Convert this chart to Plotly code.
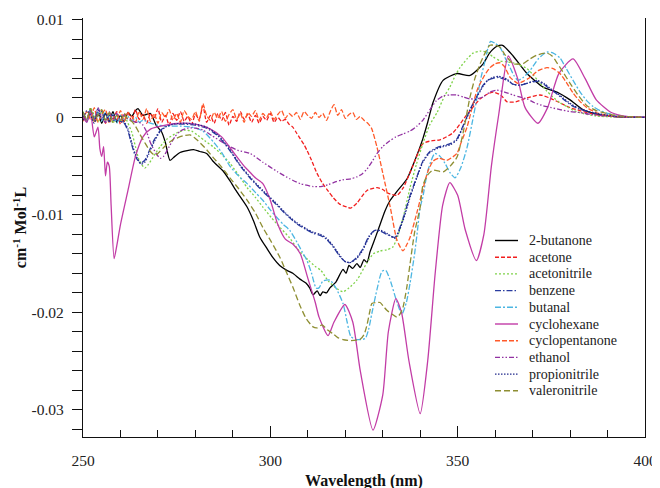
import numpy as np
import plotly.graph_objects as go

# ---------------- data (values in units of 1e-3 cm^-1 Mol^-1 L) ----------------
names = ["2-butanone", "acetone", "acetonitrile", "benzene", "butanal",
         "cyclohexane", "cyclopentanone", "ethanol", "propionitrile", "valeronitrile"]

butanone_wl = [250, 251, 252, 253, 254, 255, 256, 257, 258, 259, 260, 261, 262, 263, 264, 264.7, 266, 268, 269.5,
               271, 272, 273.2, 274.5, 275.9, 277.8, 279.5, 281.2, 283, 284.7, 287.4, 289.2, 291, 293.8, 295.5,
               297.2, 299, 300.7, 302.5, 304.4, 306, 307.9, 309.5, 310.5, 311.4, 312.5, 313.3, 314, 315, 315.9,
               317.5, 319.4, 320.2, 321, 322, 323.1, 324, 325, 325.8, 326.6, 327.4, 329, 330.6, 332, 333.8,
               336.5, 338.5, 340.7, 342, 343.4, 346.1, 349.8, 353.3, 356.8, 358.5, 360.5, 362, 364.8, 368.5,
               372.8, 376.5, 380, 383.4, 388, 392, 396, 400]
butanone_val = [0.3, -0.4, 0.8, -0.2, 0.5, -0.6, 0.4, -0.3, 0.6, -0.5, 0.2, -0.4, 0.5, 0.1, 0.7, 0.9, 0.2, 0.4, -0.8,
                -1.5, -2.6, -4.4, -4.0, -3.6, -3.4, -3.3, -3.5, -3.7, -4.5, -5.5, -6.5, -7.6, -9.2, -10.6,
                -12.3, -13.4, -14.4, -15.2, -15.7, -16.0, -16.6, -17.0, -17.5, -18.2, -17.8, -18.3, -17.9, -18.0, -17.5,
                -16.9, -15.6, -16.0, -15.2, -15.5, -15.0, -15.4, -14.6, -14.9, -13.8, -13.0, -11.3, -9.6, -8.5, -7.6,
                -6.3, -4.5, -2.2, -0.5, 1.5, 3.8, 4.5, 4.3, 5.5, 6.6, 7.3, 7.4, 6.3, 4.5,
                3.1, 2.6, 1.8, 0.8, 0.25, 0.08, 0.02, 0.0]

acetone_wl = list(range(250, 306)) + [306, 307, 308, 309, 309.8, 311, 312.4, 314, 315.5, 316.7, 318.5, 320.4, 321.5,
                                      323.1, 325.8, 328.5, 330, 331.5, 333.8, 335.5, 338, 340.7, 343, 345.3, 348.7,
                                      352.5, 356, 358, 359.5, 361.5, 363.2, 365.5, 368.5, 372, 374.5, 377.3, 380,
                                      382.6, 385.5, 388, 392, 396, 400]
acetone_val = [0.5, -0.3, 0.9, -0.5, 0.2, 0.7, -0.6, 0.3, -0.2, 0.6, -0.7, 0.1, 0.5, -0.4, 0.8, -0.2, 0.3, -0.6,
               0.4, -0.1, 0.9, -0.5, 0.2, -0.8, 0.4, -0.3, 0.6, -0.4, 0.1, -0.7, 0.3, -0.2, 1.2, -0.5, 0.2, -0.6,
               0.4, -0.3, 0.5, -0.8, 0.1, -0.4, 0.6, -0.2, 0.3, -0.5, 0.2, -0.6, 0.1, -0.3, 0.4, -0.5, 0.0, -0.4,
               -0.2, -0.7,
               -1.0, -1.6, -2.2, -2.8, -3.4, -4.4, -5.7, -6.8, -7.6, -8.2, -8.9, -9.2, -9.3,
               -8.8, -7.5, -7.2, -7.4, -7.8, -8.0, -7.2, -5.0, -2.7, -2.4, -2.3, -1.6,
               0.3, 1.9, 2.4, 2.6, 2.3, 1.6, 1.6, 2.0, 2.3, 2.0, 1.5, 1.0,
               0.7, 0.4, 0.2, 0.08, 0.02, 0.0]

acetonitrile_wl = [250, 251, 252, 253, 254, 255, 256, 257, 258, 259, 260, 261, 262, 263, 264, 265, 266.5, 267.5, 269,
                   270.6, 272.5, 275, 277, 279, 280.5, 282.5, 284.7, 287, 289.2, 291.5, 293.8, 296, 298, 300.3,
                   302.6, 305, 307.5, 310, 312, 313.5, 315.5, 317.5, 319.4, 321, 323.1, 325.8, 327.5, 329.3, 331,
                   332.7, 334, 335.5, 337.3, 339, 340.7, 342.5, 344.5, 346.5, 347.9, 349.5, 350.6, 352.5, 354.1,
                   356, 357.8, 359.5, 361.3, 363, 364.8, 366.5, 368.5, 370.3, 372, 373.8, 375.4, 377.3, 379.2,
                   381, 383.4, 387, 392, 400]
acetonitrile_val = [0.6, -0.3, 1.0, 0.2, -0.5, 0.7, -0.2, 0.4, -0.6, 0.3, -0.4, 0.2, -0.6, -1.5, -3.0, -4.4, -5.2,
                    -4.8, -3.9, -3.0, -2.2, -1.6, -1.3, -1.4, -1.8, -2.4, -3.0, -3.8, -4.7, -5.9, -7.2, -8.2, -9.2,
                    -10.3, -11.3, -12.3, -13.6, -14.6, -15.3, -15.7, -16.8, -17.5, -17.9, -17.5, -16.7, -14.9,
                    -14.0, -13.7, -13.6, -13.3, -12.2, -10.2, -7.2, -4.8, -2.7, -0.8, 0.5, 2.2, 3.1, 4.4, 5.1,
                    6.0, 6.6, 6.8, 6.7, 6.2, 5.8, 5.7, 5.6, 5.4, 5.0, 4.3, 3.5, 2.7, 2.1, 1.5, 1.1, 0.7, 0.4,
                    0.15, 0.04, 0.0]

benzene_wl = [250, 251, 252, 253, 254, 255, 256, 257, 258, 259, 260, 261, 262, 263, 264, 265.3, 266.5, 267.5, 269,
              270.5, 272, 274, 277, 280, 283, 286, 289, 292, 295, 298, 301, 304, 307, 309.5, 311.5, 313.3, 315,
              317, 318.6, 320, 321.3, 323, 324.7, 326.3, 327.9, 329.5, 331.1, 333.3, 335.4, 337.3, 339.1, 340.7,
              342.6, 344.5, 346.1, 348, 349.8, 351.5, 353.3, 355, 356.8, 358, 359.4, 361, 363.2, 364.8, 366.5,
              368.5, 371.2, 373, 374.6, 376.5, 378.1, 380.5, 382.6, 385, 388, 392, 396, 400]
benzene_val = [0.5, -0.2, 0.8, -0.4, 0.3, 0.6, -0.5, 0.2, -0.3, -0.2, -0.4, -0.6, -1.4, -2.8, -4.0, -4.7, -4.4,
               -3.6, -2.3, -1.4, -0.9, -0.7, -0.7, -0.8, -1.1, -1.9, -3.3, -5.0, -6.4, -7.6, -8.7, -9.9, -10.9,
               -11.5, -11.9, -12.1, -12.5, -13.4, -14.3, -14.8, -14.9, -14.4, -13.5, -12.2, -11.6, -11.7, -12.0,
               -12.3, -10.4, -8.0, -6.1, -4.5, -3.5, -3.1, -2.9, -2.7, -2.2, -0.8, 0.8, 2.1, 3.3, 3.8, 4.0,
               4.1, 3.8, 3.4, 3.3, 3.5, 3.7, 3.4, 2.9, 2.4, 1.9, 1.2, 0.85, 0.55, 0.32, 0.1, 0.03, 0.0]

butanal_wl = [250, 251, 252, 253, 254, 255, 256, 257, 258, 259, 260, 261, 262, 263, 264, 265, 266, 268, 270, 273,
              276, 279, 282, 285, 287, 289.2, 291.5, 293.8, 296, 298, 300, 301.8, 303.5, 305.2, 307.1, 308.5,
              309.8, 311, 312.2, 313, 314, 315.9, 317.5, 319.4, 320.5, 321.5, 323, 325.3, 326.2, 327.1, 328.5,
              329.8, 330.8, 331.9, 333.5, 335.1, 336.3, 337.3, 338.5, 339.3, 340, 340.7, 342, 343.9, 345.3,
              346.6, 348, 349.3, 350.8, 352.5, 354, 355.2, 356.3, 357.3, 358, 358.8, 360, 361.3, 362.8, 364,
              365, 366.1, 367.5, 369.3, 371.5, 373.8, 375.5, 377.3, 379, 380.8, 382.7, 384.5, 386.2, 388, 390,
              392.5, 396, 400]
butanal_val = [0.4, -0.5, 0.8, -0.1, 0.5, -0.4, 0.6, -0.2, 0.3, -0.6, 0.2, -0.3, 0.1, -0.4, 0.0, -0.5, -0.3, -0.6,
               -0.8, -0.9, -0.9, -1.0, -1.4, -2.6, -3.6, -5.0, -6.0, -6.8, -7.7, -8.5, -9.5, -10.3, -11.0, -11.6,
               -12.8, -13.8, -14.7, -16.0, -17.5, -17.5, -16.8, -16.7, -17.5, -19.1, -21.0, -22.5, -22.8, -22.7,
               -21.8, -20.1, -17.6, -15.8, -15.7, -16.6, -18.6, -20.2, -19.0, -17.0, -14.0, -11.5, -9.2, -8.2,
               -5.5, -3.7, -4.0, -4.7, -5.7, -6.2, -5.2, -3.1, -0.3, 2.1, 4.2, 5.8, 7.0, 7.8, 7.6, 7.2, 6.0,
               5.1, 4.3, 3.8, 4.1, 4.8, 6.0, 6.7, 6.6, 6.1, 5.0, 3.8, 2.6, 1.7, 1.1, 0.7, 0.4, 0.2, 0.06, 0.0]

cyclohexane_wl = [250, 251, 252, 253, 254, 254.5, 255, 255.5, 256, 256.5, 257, 257.5, 258.3, 259, 260, 262, 264,
                  266, 268, 272, 276, 280, 284, 287, 290, 293, 294.5, 296, 298, 300, 302, 304, 306, 308, 310,
                  312, 313, 315.4, 317, 319.9, 322, 324, 327.4, 330, 331.5, 333.5, 335, 337, 340, 342, 344,
                  346, 347.9, 350, 352, 355, 357, 359, 361, 363.5, 366, 368, 371.4, 374, 377, 380.8, 384, 387,
                  391, 395, 400]
cyclohexane_val = [0.0, -0.5, 0.5, -2.0, -1.0, -3.2, -4.0, -3.0, -6.0, -4.6, -5.0, -9.0, -14.5, -13.2, -11.0,
                   -7.5, -4.0, -2.0, -1.2, -0.8, -0.6, -0.7, -1.2, -2.0, -3.5, -5.0, -5.6, -6.2, -6.8, -8.5,
                   -11.0, -12.5, -13.0, -14.0, -16.5, -19.0, -20.5, -22.4, -21.0, -19.2, -21.0, -26.0, -32.1,
                   -28.5, -22.0, -18.6, -20.0, -25.0, -30.4, -25.0, -16.0, -9.0, -6.7, -8.0, -11.5, -14.7, -12.0,
                   -5.0, 0.4, 6.3, 4.0, 1.0, -0.6, 1.0, 4.5, 6.0, 4.0, 1.8, 0.5, 0.1, 0.0]

cyclopentanone_wl = list(range(250, 328)) + [328.5, 330, 332, 333.8, 335.4, 336.5, 337.3, 339.1, 340.7, 342, 343.4,
                                             345, 347.1, 349.8, 351, 352.5, 354, 355.2, 357, 358.6, 360, 361.3,
                                             362.5, 364, 366.1, 367.5, 369.3, 371.5, 373.8, 375.5, 377.3, 379,
                                             380.8, 382.5, 384.5, 387, 389.8, 394, 400]
cyclopentanone_val = [-0.4, 0.6, -0.2, 1.0, -0.5, 0.3, 0.8, -0.6, 0.2, -0.3, 0.7, -0.4, 0.5, 0.1, -0.5, 0.6, -0.2,
                      0.9, -0.4, 0.4, -0.6, 0.5, 0.0, 0.8, -0.3, 0.4, -0.5, 0.7, 0.1, -0.2, 0.6, -0.4, 1.4, 0.2,
                      -0.3, 0.5, -0.1, 0.6, -0.4, 0.3, 0.8, -0.2, 0.4, -0.5, 0.5, 0.1, 0.7, -0.3, 0.4, 0.0, 0.6,
                      -0.2, 0.3, 0.7, -0.1, 0.4, 0.1, 0.5, -0.2, 0.6, 0.2, -0.1, 0.5, 0.0, 0.4, -0.3, 0.6, 1.3,
                      0.2, 0.8, -0.1, 0.3, 0.5, -0.2, 0.1, -0.3, -0.6, -1.1,
                      -3.1, -5.7, -9.2, -12.6, -13.7, -13.0, -12.3, -9.8, -7.4, -5.6, -4.5,
                      -4.2, -4.4, -3.7, -2.5, -1.0, 1.2, 2.8, 4.2, 5.1, 5.5, 5.6,
                      5.2, 4.1, 3.5, 3.7, 4.1, 4.8, 5.1, 5.0, 4.5, 3.6,
                      2.5, 1.7, 1.0, 0.5, 0.2, 0.05, 0.0]

ethanol_wl = [250, 251, 252, 253, 254, 255, 256, 257, 258, 259, 260, 261, 262, 263, 264, 265, 266, 267, 268, 269.5,
              270.6, 271.5, 273, 274.5, 276, 278, 280, 282, 284.5, 287, 289.2, 291.5, 294.6, 298, 302, 305.2,
              308, 311.4, 313.5, 315.5, 317.5, 319.4, 321.5, 323.1, 324.5, 325.8, 327.2, 328.5, 330, 331.9,
              333.5, 335.4, 337.3, 339.1, 340.7, 342.6, 344.3, 346.1, 348, 349.8, 351.5, 353.3, 355, 356.8,
              358.6, 360.5, 362.5, 364.8, 366.5, 368.5, 370.5, 372.8, 375, 377.3, 380, 382.6, 385.5, 388, 392,
              396, 400]
ethanol_val = [0.2, -0.4, 0.7, -0.3, 1.0, 0.0, -0.5, 0.6, -0.2, 0.4, -0.3, 0.3, -0.2, -0.3, -0.5, -0.5, -0.8,
               -1.5, -2.6, -3.7, -4.2, -4.0, -3.0, -2.0, -1.4, -1.1, -1.1, -1.3, -1.9, -2.5, -3.0, -3.4, -3.7,
               -4.6, -5.6, -6.3, -6.8, -7.1, -7.1, -6.9, -6.6, -6.4, -6.3, -6.1, -5.8, -5.3, -4.5, -3.7, -3.0,
               -2.4, -2.0, -1.7, -1.4, -0.9, -0.3, 0.8, 1.7, 2.2, 2.3, 2.3, 2.1, 1.9, 1.9, 2.1, 2.6, 2.8, 2.6,
               2.3, 2.1, 1.9, 1.5, 1.2, 1.0, 0.8, 0.6, 0.5, 0.3, 0.2, 0.08, 0.02, 0.0]

propionitrile_wl = [250, 251, 252, 253, 254, 255, 256, 257, 258, 259, 260, 261, 262, 263, 264, 265.5, 266.5, 267.5,
                    269, 270.5, 272, 274, 277, 280, 283, 286, 289, 292, 295, 298, 301, 304, 307, 309.5, 311.5,
                    313.3, 315, 317, 318.6, 320, 321.3, 323, 324.7, 326.3, 327.9, 329.5, 331.1, 333.3, 335.4,
                    337.3, 339.1, 340.7, 342.6, 344.5, 346.1, 348, 349.8, 351.5, 353.3, 355, 356.8, 358, 359.4,
                    361, 363.2, 364.8, 366.5, 368.5, 371.2, 373, 374.6, 376.5, 378.1, 380.5, 382.6, 385, 388, 392,
                    396, 400]
propionitrile_val = [-0.3, 0.7, 0.2, -0.6, 0.9, -0.2, 0.4, -0.5, 0.3, -0.3, -0.4, -0.5, -1.2, -2.6, -3.8, -4.8,
                     -4.6, -3.8, -2.5, -1.5, -1.0, -0.7, -0.6, -0.7, -1.0, -1.8, -3.2, -4.9, -6.3, -7.5, -8.6,
                     -9.8, -10.8, -11.4, -11.8, -12.0, -12.4, -13.3, -14.2, -14.8, -14.9, -14.5, -13.6, -12.3,
                     -11.6, -11.6, -11.9, -12.4, -10.6, -8.2, -6.2, -4.6, -3.6, -3.2, -3.0, -2.8, -2.3, -0.9, 0.7,
                     2.0, 3.2, 3.8, 4.1, 4.2, 3.9, 3.4, 3.3, 3.5, 3.8, 3.5, 3.0, 2.5, 2.0, 1.3, 0.9, 0.6, 0.35,
                     0.12, 0.03, 0.0]

valeronitrile_wl = [250, 251, 252, 253, 254, 255, 256, 257, 258, 259, 260, 261, 262, 263, 264, 265, 266.5, 268,
                    269.2, 270.5, 272, 274, 276.7, 278.6, 280.4, 282.5, 284.7, 287, 289.2, 291.5, 293.8, 296, 298,
                    300.3, 302.6, 304.3, 306, 307.9, 309.5, 311.4, 312.5, 313.8, 315.2, 316.7, 318, 319.4, 321.5,
                    323.9, 325, 325.8, 326.5, 327.1, 328.2, 329.3, 330.2, 331.1, 332.5, 333.8, 334.6, 335.4, 336.4,
                    337.3, 338.5, 340, 340.7, 342, 343.4, 346.1, 348, 349.8, 351.5, 353.3, 354.6, 356, 357.3,
                    358.6, 360, 361.3, 362.5, 364, 364.8, 367.4, 369.3, 371.2, 373.8, 375.2, 376.5, 378.2, 380,
                    382.3, 384.5, 387, 389.8, 393, 397, 400]
valeronitrile_val = [0.5, -0.2, 0.9, -0.4, 0.3, 0.8, -0.3, 0.5, -0.5, 0.2, -0.3, 0.4, -0.2, -0.4, -0.9, -1.6, -2.6,
                     -3.5, -3.9, -3.5, -2.9, -2.3, -1.9, -1.8, -2.3, -3.1, -4.1, -5.1, -6.2, -7.3, -8.5, -9.8,
                     -11.3, -12.8, -14.4, -15.9, -17.4, -19.3, -20.6, -21.5, -21.6, -21.3, -21.8, -22.2, -22.6,
                     -22.8, -22.9, -22.8, -22.3, -21.3, -20.0, -19.1, -19.0, -19.0, -19.4, -19.8, -20.2, -20.5,
                     -20.2, -19.5, -17.5, -15.0, -11.8, -9.2, -7.0, -5.9, -5.4, -5.6, -5.0, -4.1, -1.5, 2.1, 4.0,
                     5.5, 6.6, 7.4, 7.4, 7.2, 6.5, 5.8, 5.5, 5.5, 6.0, 6.4, 6.6, 6.3, 5.6, 4.6, 3.5, 2.2, 1.2, 0.7,
                     0.4, 0.15, 0.04, 0.0]

x_tick_vals = [250, 300, 350, 400]
y_tick_vals = [0.01, 0.0, -0.01, -0.02, -0.03]
y_tick_text = ["0.01", "0", "-0.01", "-0.02", "-0.03"]

series = [
    (butanone_wl, butanone_val),
    (acetone_wl, acetone_val),
    (acetonitrile_wl, acetonitrile_val),
    (benzene_wl, benzene_val),
    (butanal_wl, butanal_val),
    (cyclohexane_wl, cyclohexane_val),
    (cyclopentanone_wl, cyclopentanone_val),
    (ethanol_wl, ethanol_val),
    (propionitrile_wl, propionitrile_val),
    (valeronitrile_wl, valeronitrile_val),
]

# ---------------- styles ----------------
colors = ["#000000", "#F21E1E", "#7FD24A", "#2A3CA0", "#4CB6E2",
          "#C23CA6", "#FF5A2A", "#9232A2", "#222A8C", "#8E8E32"]
dashes = ["solid", "4px,2px", "2px,2px", "6px,2px,1.5px,2px", "6px,2px,2px,2px",
          "solid", "5px,2px", "5px,2px,1.5px,2px,1.5px,2px", "1.5px,1.5px", "6px,3px"]

FONT = "Liberation Serif"
TXT = "#222222"

# the page body adds an 8px offset; margins are chosen so the plot area lands at
# x 83..645, y 18..437 in the browser window
OFF = 8
W, H = 660, 488
ML, MT = 75, 10
PW, PH = 562, 419
MR, MB = W - ML - PW, H - MT - PH


def px_to_paper(px, py):
    return (px - OFF - ML) / PW, (H - MB - (py - OFF)) / PH


fig = go.Figure()
for name, (wl, val), c, d in zip(names, series, colors, dashes):
    fig.add_trace(go.Scatter(
        x=wl, y=np.array(val) * 1e-3, mode="lines", name=name, showlegend=False,
        line=dict(color=c, width=1.3, dash=d, shape="spline", smoothing=0.6),
    ))

# legend drawn as layout items (sample line + label) to match the compact row spacing
shapes, annots = [], []
for i, (name, c, d) in enumerate(zip(names, colors, dashes)):
    yc = 240.5 + i * 16.7
    x0, y0 = px_to_paper(495, yc)
    x1, _ = px_to_paper(518, yc)
    xt, _ = px_to_paper(527, yc)
    shapes.append(dict(type="line", xref="paper", yref="paper", x0=x0, x1=x1, y0=y0, y1=y0,
                       line=dict(color=c, width=1.4, dash=d)))
    annots.append(dict(xref="paper", yref="paper", x=xt, y=y0, xanchor="left", yanchor="middle",
                       text=name, showarrow=False, font=dict(family=FONT, size=14, color=TXT)))

fig.update_layout(
    width=W, height=H,
    margin=dict(l=ML, r=MR, t=MT, b=MB),
    paper_bgcolor="white", plot_bgcolor="white",
    font=dict(family=FONT, size=15, color=TXT),
    showlegend=False,
    shapes=shapes, annotations=annots,
)

fig.update_xaxes(
    range=[250, 400], tickvals=x_tick_vals, ticktext=[str(v) for v in x_tick_vals],
    showline=True, linecolor="#111111", linewidth=1.2, mirror=False,
    ticks="inside", ticklen=11, tickwidth=1.2, tickcolor="#111111",
    minor=dict(dtick=10, ticks="inside", ticklen=7, tickwidth=1.2, tickcolor="#111111", showgrid=False),
    showgrid=False, zeroline=False, automargin=False,
    tickfont=dict(family=FONT, size=15.5, color=TXT),
    ticklabelstandoff=9,
    title=dict(text="<b>Wavelength (nm)</b>", font=dict(family=FONT, size=16, color="#111111"), standoff=7),
)
fig.update_yaxes(
    range=[-0.0328, 0.0102], tickvals=y_tick_vals, ticktext=y_tick_text,
    showline=True, linecolor="#111111", linewidth=1.2, mirror=True,
    ticks="outside", ticklen=10, tickwidth=1.2, tickcolor="#111111",
    minor=dict(dtick=0.002, tick0=0, ticks="outside", ticklen=10, tickwidth=1.2, tickcolor="#111111", showgrid=False),
    showgrid=False, zeroline=False, automargin=False,
    tickfont=dict(family=FONT, size=15.5, color=TXT),
    ticklabelstandoff=5,
    title=dict(text="<b>cm<sup>-1</sup> Mol<sup>-1</sup>L</b>", font=dict(family=FONT, size=16, color="#111111"), standoff=0),
)

fig.write_html("out.html")
